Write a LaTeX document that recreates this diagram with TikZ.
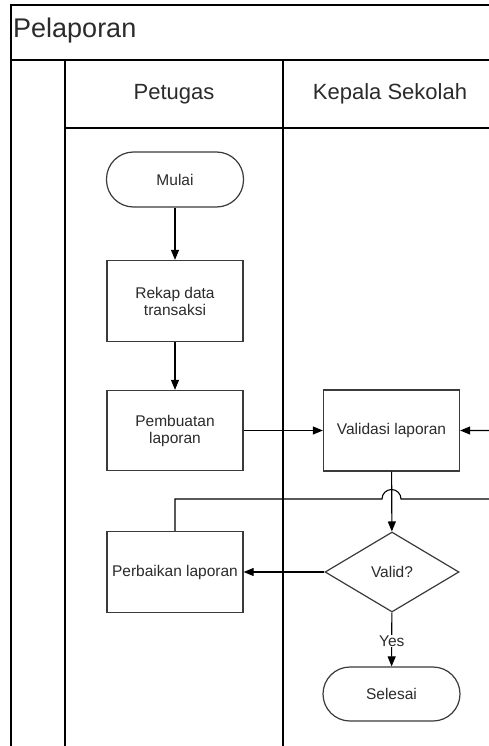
\documentclass[tikz,border=0pt]{standalone}
\usepackage{fontspec}
\setmainfont{Liberation Sans}
\usetikzlibrary{arrows.meta,shapes.geometric,calc}

\definecolor{ink}{HTML}{2B2B2B}
\definecolor{edge}{HTML}{3A3A3A}

\tikzset{
  lane/.style={draw=black, line width=1.1pt},
  boxfont/.style={font=\fontsize{15.5}{17}\selectfont},
  proc/.style={draw=edge, line width=1.3pt, fill=white, text=ink, boxfont,
    minimum width=136pt, minimum height=81pt, inner sep=2pt, align=center},
  term/.style={draw=edge, line width=1.2pt, fill=white, text=ink, boxfont,
    rounded corners=27pt, minimum width=137pt, minimum height=55pt},
  decide/.style={diamond, draw=edge, line width=1.2pt, fill=white, text=ink,
    boxfont, minimum width=134pt, minimum height=80pt, inner sep=0pt},
  flow/.style={draw=black, line width=1.1pt,
    -{Triangle[length=10pt,width=8pt]}},
  hdr/.style={text=ink, font=\fontsize{22}{26}\selectfont, inner sep=0pt},
}

\begin{document}
\begin{tikzpicture}[x=1pt, y=-1pt]
\useasboundingbox (0,0) rectangle (489,746);
\clip (0,0) rectangle (489,746);

% pool frame and swimlanes
\draw[lane] (520,5) -- (11,5) -- (11,760);
\draw[lane] (11,60) -- (520,60);
\draw[lane] (65,60) -- (65,760);
\draw[lane] (283,60) -- (283,760);
\draw[lane] (65,128) -- (520,128);

\node[anchor=west, text=ink, font=\fontsize{27}{30}\selectfont, inner sep=0pt]
  (pool) at (13,31) {Pelaporan};
\node[hdr] (laneA) at (174,94) {Petugas};
\node[hdr] (laneB) at (390,94) {Kepala Sekolah};

% steps
\node[term] (mulai) at (175,179.5) {Mulai};
\node[proc] (rekap) at (175,301) {Rekap data\\transaksi};
\node[proc, minimum height=80pt] (buat) at (175,430.5) {Pembuatan\\laporan};
\node[proc] (validasi) at (391.5,430.5) {Validasi laporan};
\node[proc] (perbaikan) at (175,572) {Perbaikan laporan};
\node[decide] (cek) at (392,572) {Valid?};
\node[term, minimum height=54pt] (selesai) at (391.5,694) {Selesai};

\coordinate (loopR) at (505,499);

% connectors
\draw[flow] (mulai) -- (rekap);
\draw[flow] (rekap) -- (buat);
\draw[flow] (buat) -- (validasi);
\draw[flow] (validasi) -- (cek);
\draw[flow] (cek) -- (perbaikan);
\draw[flow] (cek) -- node[fill=white, text=ink, inner sep=1pt, boxfont,
  pos=0.53] (yes) {Yes} (selesai);
\draw[flow] (perbaikan.north) |- ($(validasi.south |- loopR)+(-9.5,0)$)
  arc[start angle=180, end angle=0, radius=9.5pt]
  -- (loopR) |- (validasi.east);
\end{tikzpicture}
\end{document}
